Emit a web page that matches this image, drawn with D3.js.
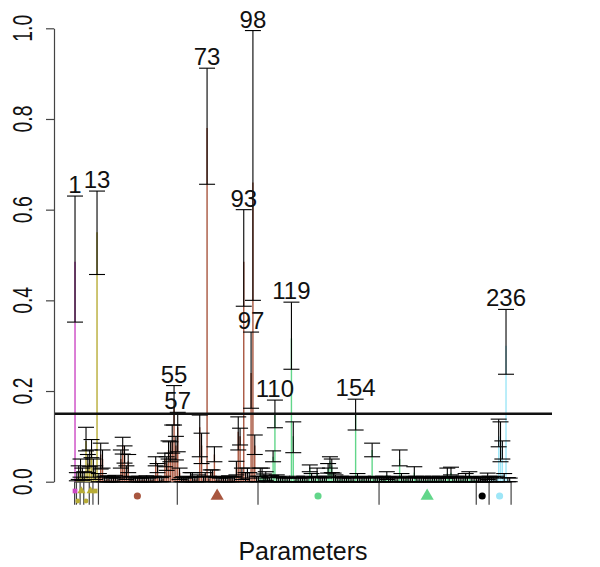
<!DOCTYPE html>
<html>
<head>
<meta charset="utf-8">
<script src="https://cdn.jsdelivr.net/npm/d3@7"></script>
<style>
  body { margin: 0; background: #fff; }
  text { font-family: "Liberation Sans", Arial, sans-serif; fill: #111; }
</style>
</head>
<body>
<svg id="chart" width="600" height="567"></svg>
<script>
// estimated value per parameter (coloured bar height), 238 parameters
const means = [
  0.485, 0.010, 0.020, 0.030, 0.015, 0.012, 0.090, 0.040, 0.050, 0.070,
  0.030, 0.020, 0.550, 0.008, 0.060, 0.050, 0.005, 0.004, 0.006, 0.003,
  0.005, 0.004, 0.007, 0.003, 0.005, 0.050, 0.080, 0.060, 0.020, 0.045,
  0.004, 0.006, 0.005, 0.003, 0.004, 0.006, 0.003, 0.005, 0.004, 0.007,
  0.003, 0.005, 0.004, 0.006, 0.045, 0.030, 0.005, 0.004, 0.006, 0.050,
  0.040, 0.070, 0.060, 0.090, 0.165, 0.080, 0.120, 0.020, 0.004, 0.005,
  0.003, 0.006, 0.004, 0.015, 0.010, 0.006, 0.005, 0.008, 0.120, 0.080,
  0.005, 0.010, 0.780, 0.006, 0.020, 0.020, 0.060, 0.004, 0.005, 0.003,
  0.006, 0.004, 0.005, 0.003, 0.007, 0.006, 0.005, 0.006, 0.030, 0.110,
  0.100, 0.020, 0.485, 0.010, 0.020, 0.010, 0.240, 0.660, 0.080, 0.006,
  0.005, 0.020, 0.015, 0.010, 0.012, 0.006, 0.004, 0.008, 0.055, 0.150,
  0.008, 0.005, 0.004, 0.006, 0.003, 0.005, 0.004, 0.003, 0.316, 0.100,
  0.004, 0.006, 0.003, 0.005, 0.004, 0.006, 0.003, 0.005, 0.030, 0.010,
  0.004, 0.005, 0.020, 0.006, 0.004, 0.005, 0.003, 0.006, 0.030, 0.045,
  0.035, 0.010, 0.008, 0.005, 0.004, 0.006, 0.003, 0.005, 0.004, 0.006,
  0.003, 0.005, 0.004, 0.150, 0.010, 0.005, 0.004, 0.006, 0.003, 0.005,
  0.004, 0.004, 0.070, 0.005, 0.006, 0.004, 0.005, 0.003, 0.006, 0.004,
  0.015, 0.005, 0.004, 0.006, 0.003, 0.005, 0.004, 0.050, 0.010, 0.005,
  0.004, 0.006, 0.003, 0.005, 0.004, 0.020, 0.006, 0.004, 0.005, 0.003,
  0.006, 0.004, 0.004, 0.005, 0.003, 0.006, 0.004, 0.005, 0.003, 0.006,
  0.004, 0.005, 0.003, 0.018, 0.006, 0.020, 0.005, 0.004, 0.006, 0.003,
  0.005, 0.004, 0.006, 0.010, 0.004, 0.015, 0.005, 0.003, 0.004, 0.005,
  0.004, 0.006, 0.003, 0.005, 0.004, 0.010, 0.006, 0.004, 0.005, 0.003,
  0.006, 0.100, 0.090, 0.070, 0.010, 0.300, 0.004, 0.003
];

// lower end of each error bar
const lows = [
  0.352, 0.002, 0.005, 0.010, 0.003, 0.004, 0.068, 0.020, 0.033, 0.053,
  0.010, 0.005, 0.457, 0.000, 0.028, 0.030, 0.000, 0.000, 0.000, 0.000,
  0.000, 0.000, 0.000, 0.000, 0.000, 0.030, 0.061, 0.041, 0.005, 0.020,
  0.000, 0.000, 0.000, 0.000, 0.000, 0.000, 0.000, 0.000, 0.000, 0.000,
  0.000, 0.000, 0.000, 0.000, 0.035, 0.020, 0.000, 0.000, 0.000, 0.033,
  0.025, 0.050, 0.044, 0.063, 0.125, 0.048, 0.066, 0.005, 0.000, 0.000,
  0.000, 0.000, 0.000, 0.010, 0.000, 0.000, 0.000, 0.000, 0.055, 0.040,
  0.000, 0.000, 0.656, 0.000, 0.010, 0.011, 0.044, 0.000, 0.000, 0.000,
  0.000, 0.000, 0.000, 0.000, 0.000, 0.000, 0.000, 0.000, 0.015, 0.070,
  0.081, 0.005, 0.387, 0.000, 0.008, 0.000, 0.162, 0.400, 0.060, 0.000,
  0.000, 0.011, 0.008, 0.000, 0.003, 0.000, 0.000, 0.000, 0.044, 0.119,
  0.000, 0.000, 0.000, 0.000, 0.000, 0.000, 0.000, 0.000, 0.248, 0.064,
  0.000, 0.000, 0.000, 0.000, 0.000, 0.000, 0.000, 0.000, 0.022, 0.000,
  0.000, 0.000, 0.010, 0.000, 0.000, 0.000, 0.000, 0.000, 0.019, 0.030,
  0.020, 0.000, 0.000, 0.000, 0.000, 0.000, 0.000, 0.000, 0.000, 0.000,
  0.000, 0.000, 0.000, 0.114, 0.000, 0.000, 0.000, 0.000, 0.000, 0.000,
  0.000, 0.000, 0.055, 0.000, 0.000, 0.000, 0.000, 0.000, 0.000, 0.000,
  0.005, 0.000, 0.000, 0.000, 0.000, 0.000, 0.000, 0.035, 0.000, 0.000,
  0.000, 0.000, 0.000, 0.000, 0.000, 0.011, 0.000, 0.000, 0.000, 0.000,
  0.000, 0.000, 0.000, 0.000, 0.000, 0.000, 0.000, 0.000, 0.000, 0.000,
  0.000, 0.000, 0.000, 0.008, 0.000, 0.015, 0.000, 0.000, 0.000, 0.000,
  0.000, 0.000, 0.000, 0.000, 0.000, 0.011, 0.000, 0.000, 0.000, 0.000,
  0.000, 0.000, 0.000, 0.000, 0.000, 0.005, 0.000, 0.000, 0.000, 0.000,
  0.000, 0.077, 0.044, 0.050, 0.000, 0.237, 0.000, 0.000
];

// upper end of each error bar
const highs = [
  0.630, 0.020, 0.035, 0.050, 0.030, 0.022, 0.120, 0.060, 0.070, 0.093,
  0.050, 0.035, 0.641, 0.018, 0.085, 0.070, 0.012, 0.010, 0.013, 0.008,
  0.011, 0.009, 0.014, 0.008, 0.011, 0.070, 0.098, 0.079, 0.035, 0.060,
  0.010, 0.012, 0.011, 0.008, 0.009, 0.012, 0.008, 0.010, 0.009, 0.013,
  0.008, 0.010, 0.009, 0.012, 0.055, 0.040, 0.011, 0.009, 0.012, 0.063,
  0.055, 0.090, 0.088, 0.125, 0.212, 0.100, 0.153, 0.030, 0.009, 0.011,
  0.008, 0.012, 0.009, 0.020, 0.020, 0.011, 0.010, 0.015, 0.147, 0.107,
  0.012, 0.020, 0.912, 0.012, 0.026, 0.026, 0.077, 0.009, 0.011, 0.008,
  0.012, 0.009, 0.011, 0.008, 0.013, 0.011, 0.010, 0.011, 0.045, 0.143,
  0.118, 0.030, 0.600, 0.020, 0.030, 0.020, 0.330, 0.995, 0.103, 0.012,
  0.012, 0.030, 0.030, 0.017, 0.022, 0.012, 0.009, 0.014, 0.068, 0.180,
  0.015, 0.011, 0.009, 0.012, 0.008, 0.010, 0.009, 0.008, 0.396, 0.132,
  0.009, 0.012, 0.008, 0.010, 0.009, 0.012, 0.008, 0.010, 0.037, 0.018,
  0.009, 0.011, 0.030, 0.012, 0.009, 0.010, 0.008, 0.012, 0.040, 0.055,
  0.050, 0.019, 0.015, 0.010, 0.009, 0.012, 0.008, 0.011, 0.009, 0.012,
  0.008, 0.010, 0.009, 0.182, 0.018, 0.011, 0.009, 0.012, 0.008, 0.010,
  0.009, 0.009, 0.085, 0.011, 0.012, 0.009, 0.010, 0.008, 0.012, 0.009,
  0.022, 0.011, 0.009, 0.012, 0.008, 0.010, 0.009, 0.070, 0.018, 0.010,
  0.009, 0.012, 0.008, 0.010, 0.009, 0.033, 0.012, 0.009, 0.011, 0.008,
  0.012, 0.009, 0.009, 0.010, 0.008, 0.012, 0.009, 0.010, 0.008, 0.012,
  0.009, 0.011, 0.008, 0.030, 0.012, 0.032, 0.010, 0.009, 0.012, 0.008,
  0.010, 0.009, 0.012, 0.018, 0.009, 0.022, 0.011, 0.008, 0.009, 0.010,
  0.009, 0.012, 0.008, 0.010, 0.009, 0.019, 0.012, 0.009, 0.011, 0.008,
  0.012, 0.138, 0.132, 0.090, 0.018, 0.380, 0.009, 0.008
];

// parameter groups: last index, colour, marker, marker row
const groupEnds   = [1, 3, 5, 8, 10, 13, 56, 100, 166, 219, 226, 238];
const groupColors = ['#cc48c4', '#b8ac36', '#b8ac36', '#b8ac36', '#b8ac36', '#b8ac36',
                     '#a8563f', '#a8563f', '#62d68a', '#62d68a', '#000000', '#9ee6f7'];
const groupShapes = ['square', 'circle', 'triangle', 'circle', 'triangle', 'square',
                     'circle', 'triangle', 'circle', 'triangle', 'circle', 'circle'];
const groupRows   = [1, 2, 1, 2, 1, 1, 0, 0, 0, 0, 0, 0];

const yTicks = [0, 0.2, 0.4, 0.6, 0.8, 1.0];
const threshold = 0.15;
const xTitle = 'Parameters';

const svg = d3.select('#chart');
const N = means.length;
const params = d3.range(1, N + 1);

const x = d3.scaleLinear().domain([0.5, N + 0.5]).range([74.1, 510.6]);
const y = d3.scaleLinear().domain([0, 1]).range([481.7, 28.3]);

const groupOf = i => groupEnds.findIndex(e => i <= e);
const groupStart = g => (g === 0 ? 1 : groupEnds[g - 1] + 1);

// y axis
const yAxis = svg.append('g')
  .attr('transform', 'translate(54,0)')
  .call(d3.axisLeft(y).tickValues(yTicks).tickSize(8).tickSizeOuter(0).tickFormat(''));
yAxis.selectAll('path, line').attr('stroke', '#444').attr('stroke-width', 1.2);

svg.append('g').selectAll('text')
  .data(yTicks)
  .join('text')
  .attr('transform', d => `translate(22,${y(d)}) rotate(-90) scale(0.72,1)`)
  .attr('text-anchor', 'middle')
  .attr('dy', '0.36em')
  .style('font-size', '27px')
  .text(d => d3.format('.1f')(d));

// x axis with group separators
const bounds = [0].concat(groupEnds).map(e => e + 0.5);
const xAxis = svg.append('g')
  .attr('transform', `translate(0,${y(0)})`)
  .call(d3.axisBottom(x).tickValues(bounds).tickSize(23).tickSizeOuter(0).tickFormat(''));
xAxis.selectAll('path, line').attr('stroke', '#444').attr('stroke-width', 1.2);

// coloured bars
svg.append('g').selectAll('line')
  .data(params)
  .join('line')
  .attr('x1', d => x(d)).attr('x2', d => x(d))
  .attr('y1', y(0)).attr('y2', d => y(means[d - 1]))
  .attr('stroke', d => groupColors[groupOf(d)])
  .attr('stroke-width', 1.4);

// error bars
const err = svg.append('g').attr('stroke', '#000').attr('stroke-width', 1.1);
const capW = 8;
params.forEach(d => {
  const cx = x(d), lo = y(lows[d - 1]), hi = y(highs[d - 1]);
  err.append('line').attr('x1', cx).attr('x2', cx).attr('y1', lo).attr('y2', hi);
  err.append('line').attr('x1', cx - capW).attr('x2', cx + capW).attr('y1', lo).attr('y2', lo);
  err.append('line').attr('x1', cx - capW).attr('x2', cx + capW).attr('y1', hi).attr('y2', hi);
});

// threshold line
svg.append('line')
  .attr('x1', 55).attr('x2', 552)
  .attr('y1', y(threshold)).attr('y2', y(threshold))
  .attr('stroke', '#111').attr('stroke-width', 2.5);

// labels for parameters whose upper bound passes the threshold
svg.append('g').selectAll('text')
  .data(params.filter(d => highs[d - 1] > threshold))
  .join('text')
  .attr('x', d => x(d))
  .attr('y', d => y(highs[d - 1]) - 3)
  .attr('text-anchor', 'middle')
  .style('font-size', '24px')
  .text(d => d);

// group markers under the axis
const shapeType = { circle: d3.symbolCircle, triangle: d3.symbolTriangle, square: d3.symbolSquare };
const rowY = [496, 491, 501];
svg.append('g').selectAll('path')
  .data(groupEnds.map((e, g) => g))
  .join('path')
  .attr('transform', g => `translate(${x((groupStart(g) + groupEnds[g]) / 2)},${rowY[groupRows[g]]})`)
  .attr('d', g => {
    const small = groupRows[g] > 0;
    const s = groupShapes[g];
    const size = s === 'triangle' ? (small ? 28 : 75) : s === 'square' ? (small ? 22 : 36) : (small ? 18 : 40);
    return d3.symbol().type(shapeType[s]).size(size)();
  })
  .attr('fill', g => groupColors[g]);

// axis title
svg.append('text')
  .attr('x', 303).attr('y', 560)
  .attr('text-anchor', 'middle')
  .style('font-size', '25px')
  .text(xTitle);
</script>
</body>
</html>
